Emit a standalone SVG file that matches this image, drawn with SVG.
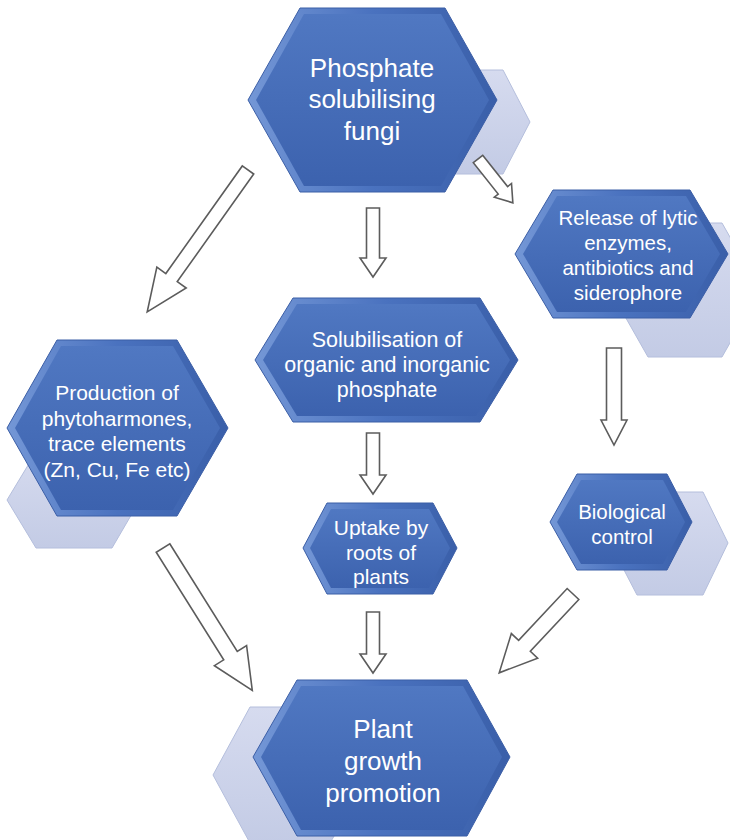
<svg xmlns="http://www.w3.org/2000/svg" width="730" height="840" viewBox="0 0 730 840">
  <defs>
    <!-- bevel rim: lighter on the left, darker on the right -->
    <linearGradient id="rim" x1="0" y1="0" x2="1" y2="0">
      <stop offset="0" stop-color="#7497d6"/>
      <stop offset="0.5" stop-color="#4a72bf"/>
      <stop offset="1" stop-color="#3a5fa9"/>
    </linearGradient>
    <!-- face of the hexagon -->
    <linearGradient id="face" x1="0" y1="0" x2="0" y2="1">
      <stop offset="0" stop-color="#5078c2"/>
      <stop offset="1" stop-color="#3c62ae"/>
    </linearGradient>
    <linearGradient id="ghost" x1="0" y1="0" x2="0" y2="1">
      <stop offset="0" stop-color="#d6dbef"/>
      <stop offset="1" stop-color="#c3cbe5"/>
    </linearGradient>
  </defs>
  <style>
    .rim { fill: url(#rim); stroke: #3b5ea6; stroke-width: 1; }
    .face { fill: url(#face); }
    .ghost { fill: url(#ghost); stroke: #b4bedc; stroke-width: 1; }
    .lbl { fill: #ffffff; font-family: "Liberation Sans", Arial, Helvetica, sans-serif; text-anchor: middle; }
    .arrow { fill: #ffffff; stroke: #5c5c5c; stroke-width: 1.6; stroke-linejoin: miter; }
  </style>

  <rect width="730" height="840" fill="#ffffff"/>

  <!-- pale back hexagons -->
  <g id="backdrops">
    <polygon class="ghost" points="410,122 440,70 503,70 530,122 503,174 440,174"/>
    <polygon class="ghost" points="610,290 648,223 722,223 760,290 722,357 648,357"/>
    <polygon class="ghost" points="7,500 36,452 112,452 140,500 112,548 36,548"/>
    <polygon class="ghost" points="610,543 637,492 703,492 728,543 703,595 637,595"/>
    <polygon class="ghost" points="213,775 250,707 330,707 370,775 330,843 250,843"/>
  </g>

  <g id="fungi">
    <polygon class="rim" points="248,100 300,8 445,8 497,100 445,192 300,192"/>
    <polygon class="face" points="256,100 304,14 441,14 489,100 441,186 304,186"/>
    <text class="lbl" font-size="26" x="372" y="77">Phosphate</text>
    <text class="lbl" font-size="26" x="372" y="108">solubilising</text>
    <text class="lbl" font-size="26" x="372" y="140">fungi</text>
  </g>

  <g id="lytic">
    <polygon class="rim" points="515,254 553,190 690,190 728,254 690,318 553,318"/>
    <polygon class="face" points="523,254 557,196 686,196 720,254 686,312 557,312"/>
    <text class="lbl" font-size="20.5" x="628" y="225">Release of lytic</text>
    <text class="lbl" font-size="20.5" x="628" y="250">enzymes,</text>
    <text class="lbl" font-size="20.5" x="628" y="275">antibiotics and</text>
    <text class="lbl" font-size="20.5" x="628" y="300">siderophore</text>
  </g>

  <g id="solubilisation">
    <polygon class="rim" points="255,360 293,298 480,298 518,360 480,422 293,422"/>
    <polygon class="face" points="263,360 297,304 476,304 510,360 476,416 297,416"/>
    <text class="lbl" font-size="21.5" x="387" y="347">Solubilisation of</text>
    <text class="lbl" font-size="21.5" x="387" y="372">organic and inorganic</text>
    <text class="lbl" font-size="21.5" x="387" y="397">phosphate</text>
  </g>

  <g id="phytohormones">
    <polygon class="rim" points="7,428 57,340 177,340 228,428 177,516 57,516"/>
    <polygon class="face" points="15,428 61,346 173,346 220,428 173,510 61,510"/>
    <text class="lbl" font-size="21" x="117" y="400">Production of</text>
    <text class="lbl" font-size="21" x="117" y="426">phytoharmones,</text>
    <text class="lbl" font-size="21" x="117" y="451">trace elements</text>
    <text class="lbl" font-size="21" x="117" y="477">(Zn, Cu, Fe etc)</text>
  </g>

  <g id="uptake">
    <polygon class="rim" points="303,548 327,503 433,503 457,548 433,594 327,594"/>
    <polygon class="face" points="310,548 331,509 429,509 450,548 429,588 331,588"/>
    <text class="lbl" font-size="21" x="381" y="535">Uptake by</text>
    <text class="lbl" font-size="21" x="381" y="560">roots of</text>
    <text class="lbl" font-size="21" x="381" y="584">plants</text>
  </g>

  <g id="biocontrol">
    <polygon class="rim" points="550,522 577,474 667,474 692,522 667,570 577,570"/>
    <polygon class="face" points="557,522 581,480 663,480 685,522 663,564 581,564"/>
    <text class="lbl" font-size="20.5" x="622" y="519">Biological</text>
    <text class="lbl" font-size="20.5" x="622" y="544">control</text>
  </g>

  <g id="growth">
    <polygon class="rim" points="253,757 297,680 467,680 510,757 467,836 297,836"/>
    <polygon class="face" points="261,757 301,686 463,686 502,757 463,830 301,830"/>
    <text class="lbl" font-size="26" x="383" y="738">Plant</text>
    <text class="lbl" font-size="26" x="383" y="770">growth</text>
    <text class="lbl" font-size="26" x="383" y="802">promotion</text>
  </g>

  <!-- hollow block arrows, drawn along +x then placed -->
  <g id="connectors">
    <polygon class="arrow" transform="translate(248,170) rotate(125.4)" points="0,-7 132,-7 132,-18 174,0 132,18 132,7 0,7"/>
    <polygon class="arrow" transform="translate(373,208) rotate(90)" points="0,-6.5 50,-6.5 50,-13 69,0 50,13 50,6.5 0,6.5"/>
    <polygon class="arrow" transform="translate(478,159) rotate(51.5)" points="0,-6 40,-6 40,-11 56,0 40,11 40,6 0,6"/>
    <polygon class="arrow" transform="translate(614,348) rotate(90)" points="0,-7.5 72,-7.5 72,-13 97,0 72,13 72,7.5 0,7.5"/>
    <polygon class="arrow" transform="translate(373,433) rotate(90)" points="0,-6.5 42,-6.5 42,-13 61,0 42,13 42,6.5 0,6.5"/>
    <polygon class="arrow" transform="translate(373,612) rotate(90)" points="0,-6.5 42,-6.5 42,-13 61,0 42,13 42,6.5 0,6.5"/>
    <polygon class="arrow" transform="translate(163,548) rotate(57.9)" points="0,-8 127,-8 127,-19 168,0 127,19 127,8 0,8"/>
    <polygon class="arrow" transform="translate(573,594) rotate(133.1)" points="0,-8 71,-8 71,-18 108,0 71,18 71,8 0,8"/>
  </g>
</svg>
